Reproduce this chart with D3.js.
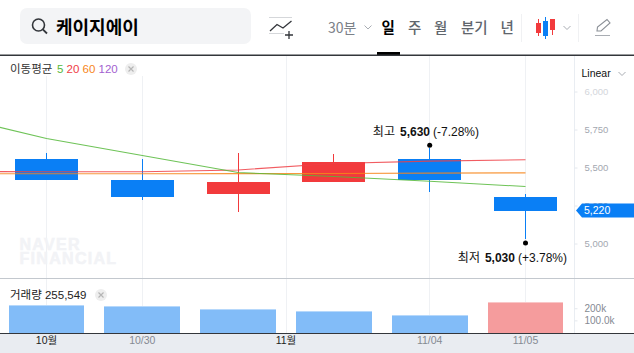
<!DOCTYPE html>
<html>
<head>
<meta charset="utf-8">
<script src="https://cdn.jsdelivr.net/npm/d3@7"></script>
<style>
html, body { margin: 0; padding: 0; background: #fff; overflow: hidden; }
svg { display: block; }
text { font-family: "Liberation Sans", "Noto Sans CJK KR", sans-serif; }
.kr { font-family: "Noto Sans CJK KR", sans-serif; }
.domain { display: none; }
</style>
</head>
<body>
<div id="chart"></div>
<script>
const dates = ["10/29", "10/30", "10/31", "11/01", "11/04", "11/05"];
const opens = [5560, 5420, 5330, 5410, 5560, 5310];
const highs = [5600, 5560, 5600, 5590, 5630, 5330];
const lows = [5420, 5290, 5210, 5410, 5340, 5030];
const closes = [5420, 5310, 5410, 5540, 5420, 5220];
const volumes = [229000, 221000, 198000, 181000, 148000, 255549];

// moving averages start one session before the window, that's why the green line comes in from the left
const maDates = ["10/28", ...dates];
const ma5 = [5845, 5694, 5582, 5470, 5444, 5413, 5378];
const ma20 = [5477, 5475, 5475, 5487, 5530, 5545, 5554];
const ma60 = [5462, 5462, 5462, 5463, 5464, 5466, 5468];

const priceTicks = [6000, 5750, 5500, 5250, 5000];
const volumeTicks = [200000, 100000];
const volumeTickLabels = ["200k", "100.0k"];
const axisLabels = ["10월", "10/30", "11월", "11/04", "11/05"];
const tabs = ["일", "주", "월", "분기", "년"];

const width = 634, height = 353;
const axisX = 574.5;
const blue = "#0a7ff5", red = "#f23a3c";

const svg = d3.select("#chart").append("svg")
    .attr("width", width)
    .attr("height", height);

// scales
const x = d3.scaleBand().domain(maDates).range([-97.2, 573.4]).paddingInner(0.344).paddingOuter(0.172);
const xVol = d3.scaleBand().domain(maDates).range([-97.2, 573.4]).paddingInner(0.21).paddingOuter(0.105);
const cx = d => x(d) + x.bandwidth() / 2;
const y = d3.scaleLinear().domain([5000, 6000]).range([244, 92]);
const yVol = d3.scaleLinear().domain([0, 255549]).range([333, 302]);

// bottom strip labels, 11월 sits halfway between 10/31 and 11/01
const labelX = d3.scaleOrdinal().domain(axisLabels).range([
    cx("10/29"), cx("10/30"), (cx("10/31") + cx("11/01")) / 2, cx("11/04"), cx("11/05")
]);

// gridlines
svg.append("g").selectAll("line")
    .data(axisLabels)
    .enter().append("line")
    .attr("x1", d => labelX(d)).attr("x2", d => labelX(d))
    .attr("y1", 55).attr("y2", 333)
    .attr("stroke", "#eff1f4")
    .attr("shape-rendering", "crispEdges");
svg.append("line")
    .attr("x1", axisX).attr("x2", axisX).attr("y1", 55).attr("y2", 333)
    .attr("stroke", "#e9edf2");

// watermark
svg.append("g").attr("font-weight", 700).attr("font-size", 16).attr("fill", "#f2f3f6")
    .attr("stroke", "#f2f3f6").attr("stroke-width", 0.5)
    .attr("letter-spacing", 1.3)
    .selectAll("text").data(["NAVER", "FINANCIAL"])
    .enter().append("text")
    .attr("x", 19.5).attr("y", (d, i) => 249.5 + i * 14.5)
    .text(d => d);

// candles
const candles = svg.append("g").selectAll("g")
    .data(dates)
    .enter().append("g")
    .attr("fill", (d, i) => closes[i] >= opens[i] ? red : blue)
    .attr("stroke", (d, i) => closes[i] >= opens[i] ? red : blue);
candles.append("line")
    .attr("x1", d => cx(d)).attr("x2", d => cx(d))
    .attr("y1", (d, i) => y(highs[i]))
    .attr("y2", (d, i) => y(lows[i]))
    .attr("shape-rendering", "crispEdges");
candles.append("rect")
    .attr("x", d => x(d))
    .attr("y", (d, i) => y(Math.max(opens[i], closes[i])))
    .attr("width", x.bandwidth())
    .attr("height", (d, i) => Math.abs(y(opens[i]) - y(closes[i])))
    .attr("stroke", "none")
    .attr("shape-rendering", "crispEdges");

// moving average lines
const maLine = d3.line().x((d, i) => cx(maDates[i])).y(d => y(d));
[[ma60, "#f7861a"], [ma20, "#ef4045"], [ma5, "#55b83a"]].forEach(([values, color]) => {
    svg.append("path")
        .attr("d", maLine(values))
        .attr("fill", "none")
        .attr("stroke", color)
        .attr("stroke-opacity", 0.85)
        .attr("stroke-width", 1.1);
});

// high / low markers
const highDate = dates[highs.indexOf(d3.max(highs))];
const lowDate = dates[lows.indexOf(d3.min(lows))];
svg.append("circle").attr("cx", cx(highDate)).attr("cy", y(d3.max(highs)) - 3).attr("r", 2.5).attr("fill", "#000");
svg.append("circle").attr("cx", cx(lowDate)).attr("cy", y(d3.min(lows)) + 3.5).attr("r", 2.5).attr("fill", "#000");
svg.append("text").attr("x", 479).attr("y", 136).attr("text-anchor", "end")
    .attr("font-size", 12).attr("fill", "#111")
    .html('<tspan class="kr">최고</tspan><tspan dx="5" font-weight="700">5,630</tspan><tspan dx="3">(-7.28%)</tspan>');
svg.append("text").attr("x", 567).attr("y", 262).attr("text-anchor", "end")
    .attr("font-size", 12).attr("fill", "#111")
    .html('<tspan class="kr">최저</tspan><tspan dx="5" font-weight="700">5,030</tspan><tspan dx="3">(+3.78%)</tspan>');

// price axis
const priceAxis = svg.append("g")
    .attr("transform", `translate(${axisX},0)`)
    .call(d3.axisRight(y).tickValues(priceTicks).tickFormat(d3.format(",")).tickSize(3).tickPadding(7).offset(0));
priceAxis.selectAll("line").attr("stroke", "#e4e8ed");
priceAxis.selectAll("text")
    .attr("font-size", 9.5)
    .attr("font-family", "Liberation Sans")
    .attr("fill", d => d === 6000 ? "#d3d6db" : "#a3a8b0");

// current price tag
const tagY = y(closes[closes.length - 1]);
svg.append("path")
    .attr("d", `M576,${tagY}L582,${tagY - 7}H634V${tagY + 7}H582Z`)
    .attr("fill", blue);
svg.append("text").attr("x", 584).attr("y", tagY + 3.5)
    .attr("font-size", 10.5).attr("fill", "#fff")
    .text(d3.format(",")(closes[closes.length - 1]));

// volume pane, bar colour follows the change against the previous session
const volumeUp = i => i > 0 && volumes[i] > volumes[i - 1];
svg.append("line").attr("x1", 0).attr("x2", width).attr("y1", 278.5).attr("y2", 278.5).attr("stroke", "#c3c8ce");
svg.append("g").selectAll("rect")
    .data(dates)
    .enter().append("rect")
    .attr("x", d => xVol(d))
    .attr("y", (d, i) => yVol(volumes[i]))
    .attr("width", xVol.bandwidth())
    .attr("height", (d, i) => yVol(0) - yVol(volumes[i]))
    .attr("fill", (d, i) => volumeUp(i) ? "#f59c9d" : "#82bcf8")
    .attr("shape-rendering", "crispEdges");
svg.append("g").selectAll("rect")
    .data(dates)
    .enter().append("rect")
    .attr("x", d => xVol(d))
    .attr("y", (d, i) => yVol(volumes[i]))
    .attr("width", xVol.bandwidth())
    .attr("height", 1)
    .attr("fill", (d, i) => volumeUp(i) ? "#f9c6c7" : "#b6d8fb")
    .attr("shape-rendering", "crispEdges");

const volAxis = svg.append("g")
    .attr("transform", `translate(${axisX},0)`)
    .call(d3.axisRight(yVol).tickValues(volumeTicks).tickFormat((d, i) => volumeTickLabels[i]).tickSize(3).tickPadding(7).offset(0));
volAxis.selectAll("line").attr("stroke", "#e4e8ed");
volAxis.selectAll("text").attr("font-size", 10).attr("font-family", "Liberation Sans").attr("fill", "#858a93");

// bottom strip
svg.append("rect").attr("x", 0).attr("y", 333).attr("width", width).attr("height", 20).attr("fill", "#e9ecf1");
svg.append("line").attr("x1", 0).attr("x2", width).attr("y1", 333.5).attr("y2", 333.5).attr("stroke", "#33363b");
const xAxis = svg.append("g")
    .attr("transform", "translate(0,334)")
    .call(d3.axisBottom(labelX).tickSize(0).tickPadding(3).offset(0));
xAxis.selectAll("text")
    .attr("font-size", 10.5)
    .attr("font-family", "Liberation Sans, Noto Sans CJK KR")
    .attr("fill", d => d.endsWith("월") ? "#1c1c1c" : "#858a93");

// legends
function closeBadge(bx, by) {
    svg.append("circle").attr("cx", bx).attr("cy", by).attr("r", 6).attr("fill", "#eeeeee");
    svg.append("path")
        .attr("d", `M${bx - 2.5},${by - 2.5}L${bx + 2.5},${by + 2.5}M${bx + 2.5},${by - 2.5}L${bx - 2.5},${by + 2.5}`)
        .attr("stroke", "#b5b5b5").attr("stroke-width", 1.2);
}
svg.append("rect").attr("x", 0).attr("y", 56).attr("width", 143).attr("height", 20).attr("fill", "#fff");
svg.append("text").attr("class", "kr").attr("x", 10).attr("y", 72.5).attr("font-size", 11.5).attr("fill", "#333").text("이동평균");
[["5", 57, "#55b83a"], ["20", 66.5, "#ef4045"], ["60", 82.5, "#f7861a"], ["120", 98.5, "#a35fd0"]].forEach(([t, tx, c]) => {
    svg.append("text").attr("x", tx).attr("y", 72.5).attr("font-size", 11.5).attr("fill", c).text(t);
});
closeBadge(131, 69);
svg.append("text").attr("x", 10).attr("y", 299).attr("font-size", 11.5).attr("fill", "#222")
    .html('<tspan class="kr">거래량</tspan> 255,549');
closeBadge(101, 295);
svg.append("text").attr("x", 581.5).attr("y", 77).attr("font-size", 10.5).attr("fill", "#111").text("Linear");
function chevron(cxp, cyp, col) {
    svg.append("path")
        .attr("d", `M${cxp - 3.5},${cyp - 2}L${cxp},${cyp + 1.5}L${cxp + 3.5},${cyp - 2}`)
        .attr("fill", "none").attr("stroke", col).attr("stroke-width", 1);
}
chevron(622, 74, "#a9adb3");

// top bar
svg.append("rect").attr("x", 20).attr("y", 8).attr("width", 231).attr("height", 36).attr("rx", 7).attr("fill", "#f3f4f6");
svg.append("circle").attr("cx", 38.5).attr("cy", 25).attr("r", 6).attr("fill", "none").attr("stroke", "#33363b").attr("stroke-width", 1.6);
svg.append("line").attr("x1", 42.8).attr("y1", 29.3).attr("x2", 47).attr("y2", 33.5).attr("stroke", "#33363b").attr("stroke-width", 1.8);
svg.append("text").attr("class", "kr").attr("x", 56).attr("y", 34).attr("font-size", 18).attr("font-weight", 700).attr("fill", "#000").text("케이지에이");

// indicator icon
svg.append("path").attr("d", "M269,17.5H292M269,33.5H284").attr("stroke", "#d5d7da").attr("fill", "none");
svg.append("path").attr("d", "M270,31L277,24.5L283,28L291.5,21").attr("stroke", "#33363b").attr("fill", "none").attr("stroke-width", 1.3);
svg.append("path").attr("d", "M285,35H293M289,31V39").attr("stroke", "#33363b").attr("fill", "none").attr("stroke-width", 1.3);

svg.append("text").attr("class", "kr").attr("x", 328).attr("y", 33).attr("font-size", 14).attr("fill", "#7c8188").text("30분");
chevron(368, 27.5, "#a9adb3");
svg.append("g").selectAll("text")
    .data(tabs)
    .enter().append("text")
    .attr("class", "kr")
    .attr("x", (d, i) => [381.5, 408, 434, 461, 500.5][i])
    .attr("y", 33)
    .attr("font-size", 14.5)
    .attr("font-weight", (d, i) => i === 0 ? 700 : 500)
    .attr("fill", (d, i) => i === 0 ? "#000" : "#60656c")
    .text(d => d);
svg.append("line").attr("x1", 521.5).attr("x2", 521.5).attr("y1", 14).attr("y2", 42).attr("stroke", "#f0f1f3");
svg.append("line").attr("x1", 578.5).attr("x2", 578.5).attr("y1", 14).attr("y2", 42).attr("stroke", "#f0f1f3");

// chart type icon
[[538.5, 19, 36, 23, 33, red], [545.5, 17, 39, 21, 36, blue], [552.5, 19, 35, 19, 30, red]].forEach(([ix, w1, w2, b1, b2, c]) => {
    svg.append("line").attr("x1", ix).attr("x2", ix).attr("y1", w1).attr("y2", w2).attr("stroke", c);
    svg.append("rect").attr("x", ix - 2.5).attr("y", b1).attr("width", 5).attr("height", b2 - b1).attr("fill", c);
});
chevron(567, 28, "#a9adb3");

// pen icon
svg.append("path").attr("d", "M597,31L597.5,27L607,19.5L610,23L601,31Z").attr("fill", "none").attr("stroke", "#8a8f96").attr("stroke-width", 1.1);
svg.append("line").attr("x1", 595).attr("x2", 610).attr("y1", 35.5).attr("y2", 35.5).attr("stroke", "#a9adb3");

// header rule and active tab
svg.append("rect").attr("x", 377).attr("y", 52).attr("width", 23).attr("height", 3).attr("fill", "#000");
svg.append("rect").attr("x", 0).attr("y", 54.5).attr("width", width).attr("height", 1.5).attr("fill", "#33363b");
</script>
</body>
</html>
